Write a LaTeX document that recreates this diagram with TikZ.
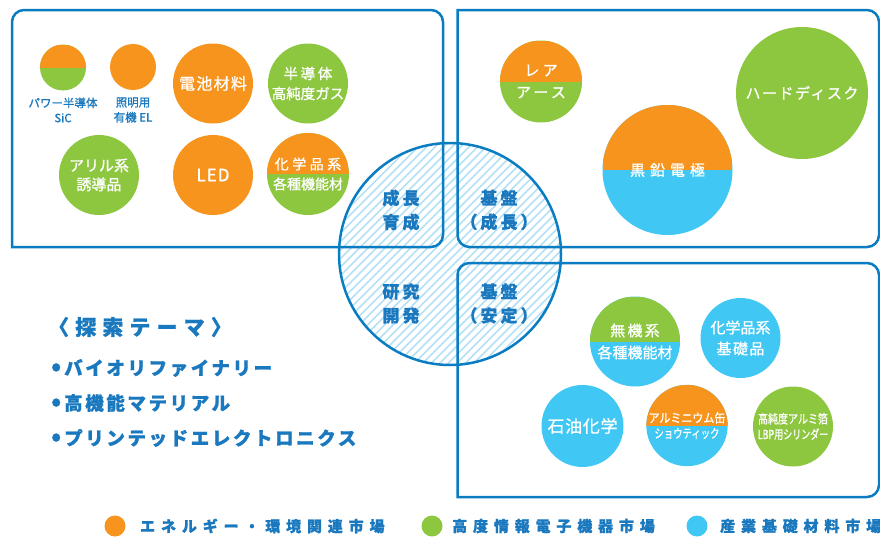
\documentclass[tikz,border=0pt]{standalone}
\usepackage{fontspec}
\usepackage{graphicx}
\setmainfont{Noto Sans CJK JP}
\definecolor{lineblue}{HTML}{0A7CC2}
\definecolor{txtblue}{HTML}{1A78BE}
\definecolor{mkorange}{HTML}{F7941D}
\definecolor{mkgreen}{HTML}{8DC63F}
\definecolor{mkcyan}{HTML}{41C7F3}
\definecolor{hatchblue}{HTML}{B4E0F6}
\newcommand\fs[2]{\fontsize{#1}{#2}\selectfont\addfontfeatures{FakeBold=1}}
\newcommand\ls[1]{\addfontfeatures{LetterSpace=#1}}
\begin{document}
\begin{tikzpicture}[x=1pt,y=-1pt,
  mk/.style={circle, inner sep=0pt, minimum size=#1, text=white, align=center, font=\fs{15}{19}},
  tophalf/.style={path picture={\fill[#1] (path picture bounding box.north west) rectangle (path picture bounding box.east);}},
  box/.style={draw=lineblue, line width=2.5pt, rounded corners=12pt, line cap=rect},
  hatch/.style={draw=hatchblue, line width=1.6pt},
  core/.style={text=txtblue, align=center, font=\fs{17}{24}\bfseries\ls{18}},
  small/.style={text=txtblue, align=center, inner sep=0pt, font=\fs{11.5}{15}},
  theme/.style={text=txtblue, anchor=west, inner sep=0pt, font=\fs{18.5}{20}\bfseries\ls{14}},
  leg/.style={circle, inner sep=0pt, minimum size=21pt},
  legtext/.style={text=txtblue, anchor=west, inner sep=0pt, font=\fs{15}{17}\bfseries\ls{39}}]
\useasboundingbox (0,0) rectangle (880,538);

% hatched core circle
\begin{scope}
  \clip (450,254) circle[radius=111];
  \foreach \i in {-360,-351.5,...,360}
    \draw[hatch] (450+\i-130,254+130) -- (450+\i+130,254-130);
\end{scope}
\node[circle, draw=lineblue, line width=2.5pt, inner sep=0pt, minimum size=222pt] (core) at (450,254) {};

% boxes
\draw[box] (12,247) -- (12,10) -- (443,10) -- (443,247) -- (12,247);
\draw[box] (457.5,10) -- (879,10) -- (879,247) -- (457.5,247) -- (457.5,10);
\draw[box] (457.5,497) -- (457.5,263) -- (879,263) -- (879,497) -- (457.5,497);

% core labels
\node[core] (t1) at (401,210) {成長\\育成};
\node[core] (t2) at (499,210) {基盤\\（成長）};
\node[core] (t3) at (401,303.5) {研究\\開発};
\node[core] (t4) at (499,303.5) {基盤\\（安定）};

% top-left box
\node[mk=46pt, fill=mkgreen, tophalf=mkorange] (sic) at (63,67.5) {};
\node[small] (sicl) at (63,110) {パワー半導体\\SiC};
\node[mk=46pt, fill=mkorange] (oel) at (133,67) {};
\node[small] (oell) at (133,110) {照明用\\有機 EL};
\node[mk=80pt, fill=mkorange, font=\fs{16}{19}\ls{8}] (bat) at (213,83.5) {電池材料};
\node[mk=80pt, fill=mkgreen, font=\fs{14.5}{20}] (gas) at (308,83.5) {{\ls{18}半導体}\\高純度ガス};
\node[mk=80pt, fill=mkgreen, font=\fs{15}{19}] (aryl) at (99,175) {アリル系\\誘導品};
\node[mk=80pt, fill=mkorange, font=\fs{17}{20}\ls{6}] (led) at (213,175) {LED};
\node[mk=82pt, fill=mkgreen, tophalf=mkorange, font=\fs{14}{20}] (chem1) at (308,174) {{\ls{25}化学品系}\\各種機能材};

% top-right box
\node[mk=82pt, fill=mkgreen, tophalf=mkorange, font=\fs{15}{22}\ls{22}] (rare) at (541,81.5) {レア\\アース};
\node[mk=130pt, fill=mkcyan, tophalf=mkorange, font=\fs{15}{18}\ls{33}] (graph) at (667.5,170) {黒鉛電極};
\node[mk=132pt, fill=mkgreen, font=\fs{15}{18}\ls{10}] (hdd) at (802,93) {ハードディスク};

% bottom-right box
\node[mk=90pt, fill=mkcyan, tophalf=mkgreen, font=\fs{15}{22}] (inorg) at (635,341.5) {{\ls{15}無機系}\\各種機能材};
\node[mk=80pt, fill=mkcyan, font=\fs{15}{21}] (chem2) at (740.5,338) {化学品系\\{\ls{10}基礎品}};
\node[mk=82pt, fill=mkcyan, font=\fs{17}{20}\ls{4}] (petro) at (582.5,426) {石油化学};
\node[mk=81pt, fill=mkcyan, tophalf=mkorange, font=\fs{12.5}{15.5}] (alcan) at (687,425.5) {\scalebox{0.88}[1]{アルミニウム缶}\\\scalebox{0.75}[1]{ショウティック}};
\node[mk=80pt, fill=mkgreen, font=\fs{12.5}{15.5}] (foil) at (793,426.5) {\scalebox{0.8}[1]{高純度アルミ箔}\\\scalebox{0.72}[1]{LBP用シリンダー}};

% themes
\node[theme, font=\fs{21}{22}\bfseries\ls{29}] (th) at (48,327) {〈探索テーマ〉};
\node[theme] (b1) at (51,368) {{\fs{25}{20}•}\hspace{3pt}バイオリファイナリー};
\node[theme] (b2) at (51,403) {{\fs{25}{20}•}\hspace{3pt}高機能マテリアル};
\node[theme] (b3) at (51,438) {{\fs{25}{20}•}\hspace{3pt}プリンテッドエレクトロニクス};

% legend
\node[leg, fill=mkorange] (lg1) at (115,526) {};
\node[legtext] (lt1) at (140,526) {エネルギー・環境関連市場};
\node[leg, fill=mkgreen] (lg2) at (432,526) {};
\node[legtext] (lt2) at (452,526) {高度情報電子機器市場};
\node[leg, fill=mkcyan] (lg3) at (697,526) {};
\node[legtext] (lt3) at (720,526) {産業基礎材料市場};
\end{tikzpicture}
\end{document}
